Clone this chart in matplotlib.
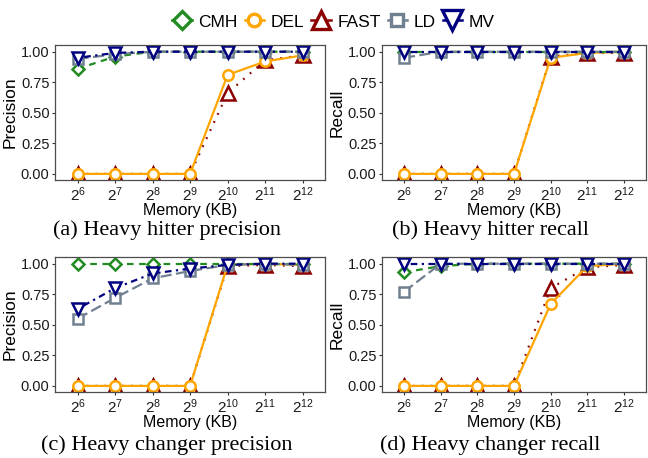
import matplotlib.pyplot as plt
from matplotlib.lines import Line2D

memory = ['$2^{6}$', '$2^{7}$', '$2^{8}$', '$2^{9}$', '$2^{10}$', '$2^{11}$', '$2^{12}$']
methods = ['CMH', 'DEL', 'FAST', 'LD', 'MV']

# heavy hitter precision
hh_prec = {
    'CMH':  [0.86, 0.96, 1.00, 1.00, 1.00, 1.00, 1.00],
    'DEL':  [0.00, 0.00, 0.00, 0.00, 0.81, 0.92, 0.97],
    'FAST': [0.00, 0.00, 0.00, 0.00, 0.66, 0.93, 0.97],
    'LD':   [0.94, 0.98, 1.00, 1.00, 1.00, 1.00, 1.00],
    'MV':   [0.95, 0.99, 1.00, 1.00, 1.00, 1.00, 1.00],
}
# heavy hitter recall
hh_rec = {
    'CMH':  [1.00, 1.00, 1.00, 1.00, 1.00, 1.00, 1.00],
    'DEL':  [0.00, 0.00, 0.00, 0.00, 0.95, 0.99, 1.00],
    'FAST': [0.00, 0.00, 0.00, 0.00, 0.96, 0.99, 0.99],
    'LD':   [0.95, 1.00, 1.00, 1.00, 1.00, 1.00, 1.00],
    'MV':   [1.00, 1.00, 1.00, 1.00, 1.00, 1.00, 1.00],
}
# heavy changer precision
hc_prec = {
    'CMH':  [1.00, 1.00, 1.00, 1.00, 1.00, 1.00, 1.00],
    'DEL':  [0.00, 0.00, 0.00, 0.00, 0.99, 1.00, 0.99],
    'FAST': [0.00, 0.00, 0.00, 0.00, 0.98, 0.99, 0.98],
    'LD':   [0.55, 0.72, 0.88, 0.94, 0.99, 1.00, 0.99],
    'MV':   [0.63, 0.80, 0.92, 0.96, 0.99, 1.00, 1.00],
}
# heavy changer recall
hc_rec = {
    'CMH':  [0.93, 0.98, 1.00, 1.00, 1.00, 1.00, 1.00],
    'DEL':  [0.00, 0.00, 0.00, 0.00, 0.67, 0.98, 1.00],
    'FAST': [0.00, 0.00, 0.00, 0.00, 0.80, 0.97, 0.99],
    'LD':   [0.77, 1.00, 1.00, 1.00, 1.00, 1.00, 1.00],
    'MV':   [1.00, 1.00, 1.00, 1.00, 1.00, 1.00, 1.00],
}

panels = [(hh_prec, 'Precision', '(a) Heavy hitter precision'),
          (hh_rec, 'Recall', '(b) Heavy hitter recall'),
          (hc_prec, 'Precision', '(c) Heavy changer precision'),
          (hc_rec, 'Recall', '(d) Heavy changer recall')]

# marker sizes: (panel, legend)
style = {
    'CMH':  dict(color='#228B22', ls=(0, (3, 2.5)), marker='D', ms=(6.5, 9.5)),
    'DEL':  dict(color='#FFA500', ls='-', marker='o', ms=(7.5, 9)),
    'FAST': dict(color='#8B0000', ls=(0, (0.8, 3.2)), marker='^', ms=(10, 13.5)),
    'LD':   dict(color='#708090', ls=(0, (5, 2)), marker='s', ms=(6.5, 9)),
    'MV':   dict(color='#000080', ls=(0, (1, 2, 3, 2)), marker='v', ms=(9, 14)),
}
draw_order = ['FAST', 'DEL', 'CMH', 'LD', 'MV']

plt.rcParams['font.family'] = ['Liberation Sans', 'DejaVu Sans']
plt.rcParams['mathtext.default'] = 'regular'

fig = plt.figure(figsize=(6.48, 4.58), dpi=100)
boxes = [(0.085, 0.607, 0.4167, 0.2948), (0.5895, 0.607, 0.4074, 0.2948),
         (0.085, 0.1441, 0.4167, 0.2948), (0.5895, 0.1441, 0.4074, 0.2948)]
cap_pos = [(0.258, 0.497), (0.757, 0.497), (0.258, 0.028), (0.757, 0.028)]

x = list(range(len(memory)))
for (data, ylab, cap), box, cp in zip(panels, boxes, cap_pos):
    ax = fig.add_axes(box)
    for m in draw_order:
        s = style[m]
        ax.plot(x, data[m], color=s['color'], ls=s['ls'], lw=1.6,
                marker=s['marker'], ms=s['ms'][0], mfc='white', mec=s['color'],
                mew=1.8)
    ax.set_xlim(-0.6, 6.6)
    ax.set_ylim(-0.05, 1.055)
    ax.set_xticks(x)
    ax.set_xticklabels(memory)
    ax.set_yticks([0, 0.25, 0.5, 0.75, 1.0])
    ax.set_yticklabels(['0.00', '0.25', '0.50', '0.75', '1.00'])
    ax.tick_params(labelsize=10.5, colors='#333333', labelcolor='#1a1a1a',
                   length=2.5, width=0.8, pad=1.5)
    ax.tick_params(axis='x', labelsize=11)
    for sp in ax.spines.values():
        sp.set_color('#4d4d4d')
        sp.set_linewidth(0.9)
    ax.set_xlabel('Memory (KB)', fontsize=11.5, labelpad=-1)
    ax.set_ylabel(ylab, fontsize=12.5, labelpad=2)
    fig.text(cp[0], cp[1], cap, ha='center', va='center', fontsize=16,
             family='Liberation Serif')

handles = []
for m in methods:
    s = style[m]
    handles.append(Line2D([], [], color=s['color'], ls='-', lw=1.8,
                          marker=s['marker'], ms=s['ms'][1], mfc='white',
                          mec=s['color'], mew=2.4))
fig.legend(handles, methods, loc='center', bbox_to_anchor=(0.515, 0.952),
           ncol=5, frameon=False, fontsize=12.5, handlelength=1.1,
           handletextpad=0.4, columnspacing=0.4, borderpad=0)

fig.savefig('out.png', dpi=100)
